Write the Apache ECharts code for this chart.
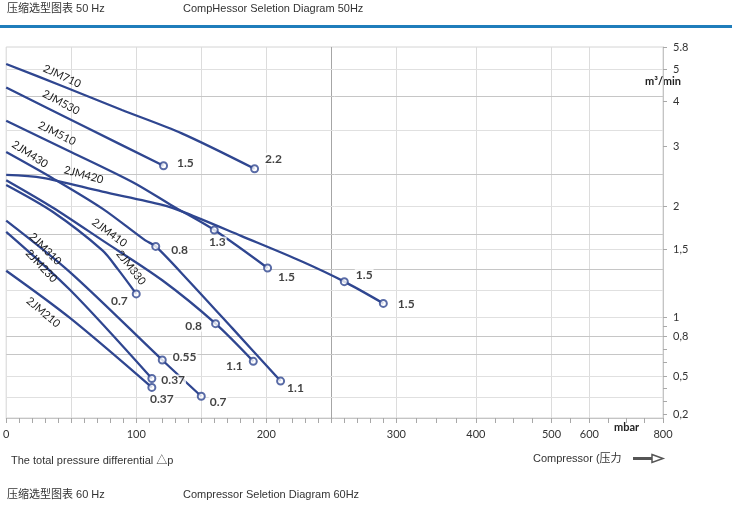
<!DOCTYPE html>
<html>
<head>
<meta charset="utf-8">
<script src="https://cdn.jsdelivr.net/npm/echarts@6.0.0/dist/echarts.min.js"></script>
<style>
html, body { margin: 0; padding: 0; background: #fff; }
#chart { width: 732px; height: 508px; }
</style>
</head>
<body>
<div id="chart"></div>
<script>
// 50Hz sheet: [pressure mbar, flow m³/min] along each compressor curve
const jm710 = [[0, 5.18], [43, 4.47], [89, 3.80], [135, 3.28], [191, 2.62]];
const jm530 = [[0, 4.42], [59, 3.45], [121, 2.67]];
const jm510 = [[0, 3.56], [47, 2.93], [97, 2.40], [128, 2.00], [160, 1.72], [201, 1.36]];
const jm430 = [[0, 2.90], [36, 2.46], [74, 1.97], [107, 1.60], [115, 1.53], [139, 1.28], [174, 0.88], [211, 0.46]];
const jm420 = [[0, 2.52], [28, 2.47], [74, 2.24], [120, 2.02], [138, 1.92], [181, 1.65], [227, 1.41], [260, 1.26], [290, 1.10]];
const jm410 = [[0, 2.43], [36, 1.98], [74, 1.60], [120, 1.27], [161, 0.93], [190, 0.61]];
const jm330 = [[0, 2.35], [36, 1.93], [74, 1.49], [86, 1.35], [100, 1.17]];
const jm310 = [[0, 1.83], [49, 1.33], [120, 0.62], [150, 0.34]];
const jm230 = [[0, 1.70], [49, 1.20], [112, 0.48]];
const jm210 = [[0, 1.34], [49, 0.99], [112, 0.41]];

const curveNames = ['2JM710', '2JM530', '2JM510', '2JM430', '2JM420', '2JM410', '2JM330', '2JM310', '2JM230', '2JM210'];
const curves = [jm710, jm530, jm510, jm430, jm420, jm410, jm330, jm310, jm230, jm210];

// motor kW points on the curves: [mbar, m³/min, kW]
const kwPoints = [
  [121, 2.67, '1.5'], [191, 2.62, '2.2'],
  [160, 1.72, '1.3'], [201, 1.36, '1.5'],
  [260, 1.26, '1.5'], [290, 1.10, '1.5'],
  [115, 1.53, '0.8'], [211, 0.46, '1.1'],
  [161, 0.93, '0.8'], [190, 0.61, '1.1'],
  [100, 1.17, '0.7'],
  [120, 0.62, '0.55'], [150, 0.34, '0.7'],
  [112, 0.48, '0.37'], [112, 0.41, '0.37']
];

const xTickLabels = [0, 100, 200, 300, 400, 500, 600, 800];
const yTickLabels = [0.2, 0.5, 0.8, 1, 1.5, 2, 3, 4, 5, 5.8];
const yTickText = ['0,2', '0,5', '0,8', '1', '1,5', '2', '3', '4', '5', '5.8'];

// where the curve names sit: [mbar, m³/min, angle]
const nameSpots = [
  [42, 4.69, -25], [41, 3.91, -28], [38, 3.22, -27], [17, 2.82, -33], [59, 2.47, -15],
  [78, 1.66, -36], [93, 1.34, -52], [30, 1.50, -45], [27, 1.375, -47], [29, 1.04, -40]
];
// how far each name is lifted off its curve (px, + = above)
const nameLift = [3, 3, 3, 3, 3, 3, 5, 0, 0, -1];

// the sheet's axes are not linear, so both go through knots (value -> axis unit)
const xKnots = [[0, 0], [300, 475.2], [400, 572.1], [500, 664.2], [600, 710.3], [800, 800]];
const yKnots = [[0.17, 0], [0.2, 4], [0.5, 42], [0.8, 82], [1, 101], [1.5, 169], [2, 212], [3, 272], [4, 317], [5, 349], [5.8, 371]];

function interp(knots, v) {
  for (let i = 1; i < knots.length; i++) {
    const [a0, b0] = knots[i - 1];
    const [a1, b1] = knots[i];
    if (v <= a1 || i === knots.length - 1) {
      return b0 + (v - a0) * (b1 - b0) / (a1 - a0);
    }
  }
}
const xs = v => interp(xKnots, v);
const ys = v => interp(yKnots, v);

const xMinor = [];
for (let m = 0; m <= 300; m += 10) xMinor.push(m);
[325, 350, 375, 400, 425, 450, 475, 500, 550, 600, 650, 700, 750, 800].forEach(m => xMinor.push(m));
const yMinor = [0.2, 0.3, 0.4, 0.5, 0.6, 0.7, 0.8, 0.9, 1, 1.5, 2, 3, 4, 5, 5.8];

const xGrid = [50, 100, 150, 200, 250, 300, 400, 500, 600];
const yGrid = [5, 4.16, 3.36, 2.53, 2, 1.67, 1.5, 1.35, 1.2, 1, 0.8, 0.665, 0.5, 0.334];
const yGridDark = [4.16, 2.53, 1.67, 1.35, 0.8, 0.665];

const lineColor = '#2f4690';
const numFont = 'Lato, "Open Sans", sans-serif';
const txtFont = '"Liberation Sans", "Noto Sans CJK SC", sans-serif';

// label placement next to each kW circle
const kwLabelPos = [
  {position: 'right', distance: 8, offset: [0, -3]},
  {position: 'right', distance: 5, offset: [0, -10]},
  {position: 'bottom', distance: 2, offset: [3, 0]},
  {position: 'right', distance: 5, offset: [0, 9]},
  {position: 'right', distance: 6, offset: [0, -7]},
  {position: 'right', distance: 9, offset: [0, 1]},
  {position: 'right', distance: 10, offset: [0, 4]},
  {position: 'right', distance: 1, offset: [0, 7]},
  {position: 'left', distance: 8, offset: [0, 2]},
  {position: 'left', distance: 5, offset: [0, 5]},
  {position: 'left', distance: 3, offset: [0, 7]},
  {position: 'right', distance: 5, offset: [0, -3]},
  {position: 'right', distance: 3, offset: [0, 6]},
  {position: 'right', distance: 4, offset: [0, 2]},
  {position: 'bottom', distance: 1, offset: [10, 0]}
];

const chart = echarts.init(document.getElementById('chart'));

const gridSeries = {
  type: 'line', z: 1, silent: true, showSymbol: false,
  data: [[0, 0]], lineStyle: {opacity: 0},
  markLine: {
    z: 1, silent: true, symbol: ['none', 'none'], label: {show: false}, animation: false,
    data: [
      ...xGrid.map(p => ({xAxis: xs(p), lineStyle: {color: p === 250 ? '#a6a6a6' : '#dcdcdc', width: 1, type: 'solid'}})),
      ...yGrid.map(q => ({yAxis: ys(q), lineStyle: {color: yGridDark.includes(q) ? '#c6c6c6' : '#e0e0e0', width: 1, type: 'solid'}}))
    ]
  }
};

const curveSeries = curveNames.map((name, i) => {
  const ang = nameSpots[i][2] * Math.PI / 180;
  const d = nameLift[i];
  return {
    name, type: 'line', smooth: 0.3, showSymbol: false, z: 3, silent: true,
    lineStyle: {color: lineColor, width: 2.3},
    data: curves[i].map(([p, q]) => [xs(p), ys(q)]),
    markPoint: {
      silent: true, symbol: 'circle', symbolSize: 0,
      data: [{
        coord: [xs(nameSpots[i][0]), ys(nameSpots[i][1])],
        symbolOffset: [-d * Math.sin(ang), -d * Math.cos(ang)],
        label: {show: true, position: 'inside', formatter: name, rotate: nameSpots[i][2],
          color: '#1a1a1a', fontSize: 11, fontFamily: numFont}
      }]
    }
  };
});

const kwSeries = {
  type: 'scatter', z: 4, silent: true, symbol: 'circle', symbolSize: 7,
  itemStyle: {color: '#fff', borderColor: lineColor, borderWidth: 2},
  label: {show: true, color: '#111', fontWeight: 'bold', fontSize: 12, fontFamily: numFont,
    backgroundColor: '#fff', padding: [0, 1]},
  data: kwPoints.map(([p, q, kw], i) => ({
    value: [xs(p), ys(q)],
    label: Object.assign({formatter: kw}, kwLabelPos[i])
  }))
};

const option = {
  animation: false,
  backgroundColor: '#fff',
  grid: {left: 3, right: 69, top: 47, bottom: 90, show: true, borderColor: '#d4d4d4', borderWidth: 1},
  xAxis: {
    type: 'value', min: 0, max: 800,
    axisLine: {show: true, onZero: false, lineStyle: {color: '#c4c4c4'}},
    axisTick: {show: true, length: 5, customValues: xMinor.map(xs), lineStyle: {color: '#a8a8a8'}},
    axisLabel: {
      customValues: xTickLabels.map(xs), margin: 11, color: '#333', fontSize: 11, fontFamily: numFont,
      formatter: v => {
        const k = xTickLabels.find(t => Math.abs(xs(t) - v) < 0.5);
        return k === undefined ? '' : String(k);
      }
    },
    splitLine: {show: false}
  },
  yAxis: {
    type: 'value', position: 'right', min: 0, max: 371,
    axisLine: {show: true, onZero: false, lineStyle: {color: '#c4c4c4'}},
    axisTick: {show: true, inside: false, length: 4, customValues: yMinor.map(ys), lineStyle: {color: '#a8a8a8'}},
    axisLabel: {
      customValues: yTickLabels.map(ys), margin: 10, color: '#333', fontSize: 11, fontFamily: numFont,
      formatter: v => {
        const k = yTickLabels.findIndex(t => Math.abs(ys(t) - v) < 0.5);
        return k < 0 ? '' : yTickText[k];
      }
    },
    splitLine: {show: false}
  },
  graphic: [
    {type: 'text', left: 7, top: 3, style: {text: '压缩选型图表 50 Hz', fill: '#333', font: '11px ' + txtFont}},
    {type: 'text', left: 183, top: 3, style: {text: 'CompHessor Seletion Diagram 50Hz', fill: '#333', font: '11px ' + txtFont}},
    {type: 'rect', left: 0, top: 25, shape: {width: 732, height: 3}, style: {fill: '#1f7dbb'}},
    {type: 'text', left: 645, top: 76, style: {text: 'm³/min', fill: '#222', font: 'bold 11px ' + numFont}},
    {type: 'text', left: 614, top: 422, style: {text: 'mbar', fill: '#222', font: 'bold 11px ' + numFont}},
    {type: 'text', left: 11, top: 455, style: {text: 'The total pressure differential △p', fill: '#333', font: '11px ' + txtFont}},
    {type: 'text', left: 533, top: 453, style: {text: 'Compressor (压力', fill: '#333', font: '11px ' + txtFont}},
    {type: 'rect', left: 633, top: 457, shape: {width: 20, height: 3}, style: {fill: '#555'}},
    {type: 'polygon', shape: {points: [[652, 454.5], [663, 458.5], [652, 462.5]]}, style: {fill: '#fff', stroke: '#555', lineWidth: 1.5}},
    {type: 'text', left: 7, top: 489, style: {text: '压缩选型图表 60 Hz', fill: '#333', font: '11px ' + txtFont}},
    {type: 'text', left: 183, top: 489, style: {text: 'Compressor Seletion Diagram 60Hz', fill: '#333', font: '11px ' + txtFont}}
  ],
  series: [gridSeries, ...curveSeries, kwSeries]
};

chart.setOption(option);
</script>
</body>
</html>
